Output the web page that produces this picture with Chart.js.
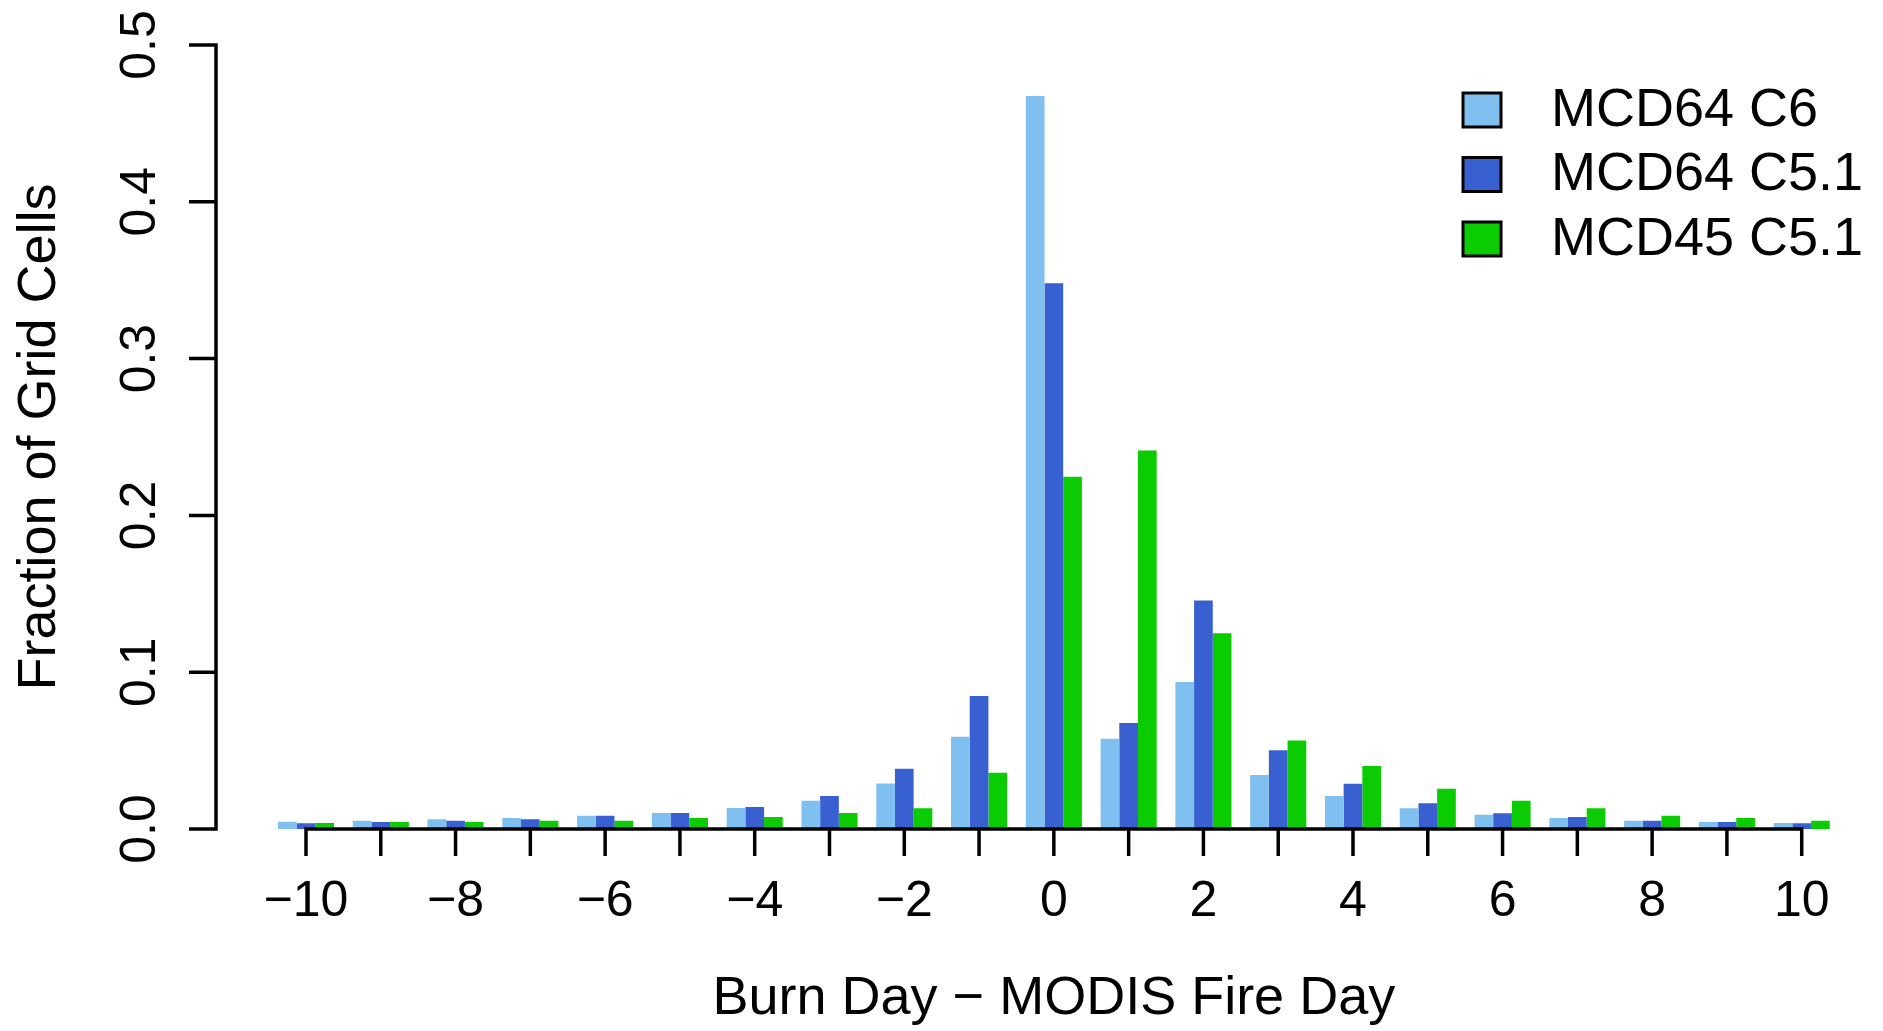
<!DOCTYPE html>
<html>
<head>
<meta charset="utf-8">
<script src="https://cdn.jsdelivr.net/npm/chart.js@4/dist/chart.umd.min.js"></script>
<style>
  html, body { margin: 0; padding: 0; background: #fff; }
  #wrap { width: 1883px; height: 1031px; }
</style>
</head>
<body>
<div id="wrap"><canvas id="chart" width="1883" height="1031"></canvas></div>
<script>
// burn day minus MODIS fire day
const days = [-10, -9, -8, -7, -6, -5, -4, -3, -2, -1, 0, 1, 2, 3, 4, 5, 6, 7, 8, 9, 10];
const mcd64c6 = [0.0047, 0.0053, 0.0062, 0.0070, 0.0085, 0.0102, 0.0134, 0.0180, 0.0290, 0.0588, 0.4674,
  0.0575, 0.0937, 0.0344, 0.0210, 0.0132, 0.0091, 0.0070, 0.0053, 0.0045, 0.0038];
const mcd64c51 = [0.0036, 0.0045, 0.0053, 0.0062, 0.0085, 0.0102, 0.0141, 0.0210, 0.0384, 0.0849, 0.3480,
  0.0676, 0.1457, 0.0503, 0.0289, 0.0164, 0.0100, 0.0076, 0.0053, 0.0045, 0.0036];
const mcd45c51 = [0.0038, 0.0045, 0.0045, 0.0053, 0.0053, 0.0070, 0.0077, 0.0102, 0.0132, 0.0359, 0.2247,
  0.2414, 0.1248, 0.0565, 0.0401, 0.0257, 0.0180, 0.0132, 0.0085, 0.0070, 0.0053];
const yTicks = [0, 0.1, 0.2, 0.3, 0.4, 0.5];
const xLabelDays = [-10, -8, -6, -4, -2, 0, 2, 4, 6, 8, 10];

const FONT = '"Liberation Sans", Arial, Helvetica, sans-serif';
const fmtDay = d => (d < 0 ? '\u2212' + Math.abs(d) : String(d));

// R style axes, titles and legend
const rAxes = {
  id: 'rAxes',
  afterDraw(chart) {
    const ctx = chart.ctx;
    const x = chart.scales.x;
    const y = chart.scales.y;
    const y0 = y.getPixelForValue(0);
    const axisX = 216;
    const tickLen = 27;
    ctx.save();
    ctx.strokeStyle = '#000';
    ctx.fillStyle = '#000';
    ctx.lineWidth = 3.5;
    ctx.lineCap = 'butt';

    // x axis
    const xFirst = x.getPixelForValue(0);
    const xLast = x.getPixelForValue(days.length - 1);
    ctx.beginPath();
    ctx.moveTo(xFirst - 1.75, y0);
    ctx.lineTo(xLast + 1.75, y0);
    days.forEach((d, i) => {
      const px = x.getPixelForValue(i);
      ctx.moveTo(px, y0);
      ctx.lineTo(px, y0 + tickLen);
    });
    ctx.stroke();
    ctx.font = '50px ' + FONT;
    ctx.textAlign = 'center';
    ctx.textBaseline = 'middle';
    xLabelDays.forEach(d => {
      const px = x.getPixelForValue(days.indexOf(d));
      ctx.fillText(fmtDay(d), px, 902);
    });

    // y axis
    const yTop = y.getPixelForValue(yTicks[yTicks.length - 1]);
    ctx.beginPath();
    ctx.moveTo(axisX, y0 + 1.75);
    ctx.lineTo(axisX, yTop - 1.75);
    yTicks.forEach(v => {
      const py = y.getPixelForValue(v);
      ctx.moveTo(axisX, py);
      ctx.lineTo(axisX - tickLen, py);
    });
    ctx.stroke();
    yTicks.forEach(v => {
      const py = y.getPixelForValue(v);
      ctx.save();
      ctx.translate(141, py);
      ctx.rotate(-Math.PI / 2);
      ctx.fillText(v.toFixed(1), 0, 0);
      ctx.restore();
    });

    // titles
    ctx.font = '54px ' + FONT;
    ctx.fillText('Burn Day \u2212 MODIS Fire Day', (xFirst + xLast) / 2, 999);
    ctx.save();
    ctx.translate(40, (y0 + yTop) / 2);
    ctx.rotate(-Math.PI / 2);
    ctx.fillText('Fraction of Grid Cells', 0, 0);
    ctx.restore();

    // legend
    ctx.textAlign = 'left';
    ctx.lineWidth = 3;
    chart.data.datasets.forEach((ds, i) => {
      const cy = 110 + i * 64.5;
      ctx.fillStyle = ds.backgroundColor;
      ctx.fillRect(1463, cy - 17, 38, 34);
      ctx.strokeRect(1463, cy - 17, 38, 34);
      ctx.fillStyle = '#000';
      ctx.fillText(ds.label, 1551, cy + 1);
    });
    ctx.restore();
  }
};

new Chart(document.getElementById('chart'), {
  type: 'bar',
  data: {
    labels: days.map(fmtDay),
    datasets: [
      { label: 'MCD64 C6', data: mcd64c6, backgroundColor: '#80C0F0' },
      { label: 'MCD64 C5.1', data: mcd64c51, backgroundColor: '#3860D0' },
      { label: 'MCD45 C5.1', data: mcd45c51, backgroundColor: '#0ACC00' }
    ]
  },
  options: {
    responsive: false,
    animation: false,
    devicePixelRatio: 1,
    layout: { padding: { left: 268.6, right: 43.9, top: 45, bottom: 202 } },
    datasets: { bar: { categoryPercentage: 0.75, barPercentage: 1.0, borderWidth: 0 } },
    scales: {
      x: { display: false, offset: true },
      y: { display: false, min: 0, max: 0.5 }
    },
    plugins: { legend: { display: false }, tooltip: { enabled: false } }
  },
  plugins: [rAxes]
});
</script>
</body>
</html>
